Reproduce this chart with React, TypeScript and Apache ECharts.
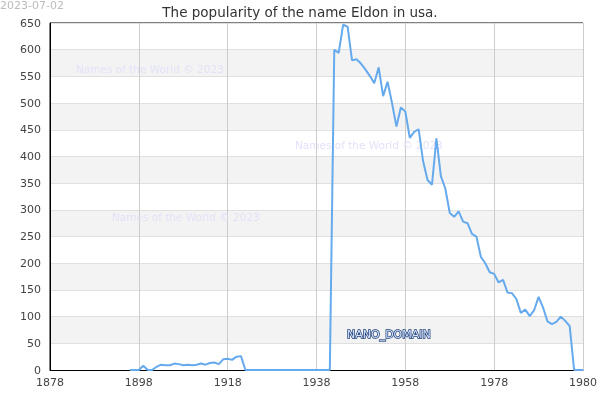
import React, { useEffect, useRef } from "react";
import * as echarts from "echarts";

const titleText = "The popularity of the name Eldon in usa.";
const dateText = "2023-07-02";
const watermarkText = "Names of the World © 2023";
const domainText = "NANO_DOMAIN";

const startYear = 1896;
// values per year, 1896 .. 1998
const popularity = [
  0, 0, 0, 8, 0, 0, 6, 10, 9, 9, // 1896-1905
  12, 11, 9, 10, 9, 10, 12, 10, 13, 14, // 1906-1915
  11, 20, 21, 19, 25, 26, 0, 0, 0, 0, // 1916-1925
  0, 0, 0, 0, 0, 0, 0, 0, 0, 0, // 1926-1935
  0, 0, 0, 0, 0, 0, 600, 594, 647, 643, // 1936-1945
  580, 582, 574, 563, 551, 537, 567, 513, 540, 500, // 1946-1955
  456, 492, 484, 435, 446, 451, 391, 356, 347, 434, // 1956-1965
  363, 340, 294, 287, 297, 278, 275, 255, 250, 212, // 1966-1975
  200, 183, 180, 164, 169, 145, 144, 133, 107, 113, // 1976-1985
  101, 112, 137, 117, 91, 86, 90, 100, 92, 82, // 1986-1995
  0, 0, 0, // 1996-1998
];

const xMin = 1878;
const xMax = 1998;
const xInterval = 20;
const xLastTickLabel = "1980";
const yMin = 0;
const yMax = 650;
const yInterval = 50;

export default function App() {
  const ref = useRef<HTMLDivElement>(null);
  useEffect(() => {
    if (!ref.current) return;
    const chart = echarts.init(ref.current, undefined, { renderer: "svg" });
    const data = popularity.map((v, i) => [startYear + i, v]);
    const font = "DejaVu Sans";
    const wmStyle = { text: watermarkText, fill: "#e2e2f8", fontSize: 10.5, fontFamily: font };
    chart.setOption({
      animation: false,
      textStyle: { fontFamily: font },
      title: {
        text: titleText,
        left: "center",
        top: 0,
        textStyle: { fontSize: 13.5, fontWeight: "normal", color: "#333", fontFamily: font },
      },
      grid: {
        left: 50,
        right: 15,
        top: 23,
        bottom: 30,
        show: true,
        borderColor: "#000",
        borderWidth: 1,
        backgroundColor: "transparent",
      },
      xAxis: {
        type: "value",
        min: xMin,
        max: xMax,
        interval: xInterval,
        axisLine: { show: true, lineStyle: { color: "#000", width: 1 } },
        axisTick: { show: false },
        axisLabel: {
          color: "#444",
          fontSize: 11,
          margin: 7,
          fontFamily: font,
          formatter: (v: number) => (v === xMax ? xLastTickLabel : String(v)),
        },
        splitLine: { show: true, lineStyle: { color: "#ccc", width: 1 } },
      },
      yAxis: {
        type: "value",
        min: yMin,
        max: yMax,
        interval: yInterval,
        axisLine: { show: true, lineStyle: { color: "#000", width: 1 } },
        axisTick: { show: false },
        axisLabel: { color: "#444", fontSize: 11, margin: 9, fontFamily: font },
        splitLine: { show: true, lineStyle: { color: "#e0e0e0", width: 1 } },
        splitArea: { show: true, areaStyle: { color: ["#ffffff", "#f3f3f3"] } },
      },
      graphic: [
        {
          type: "text",
          x: 0,
          y: 0,
          style: { text: dateText, fill: "#bbb", fontSize: 11, fontFamily: font, verticalAlign: "top" },
        },
        { type: "text", x: 76, y: 63, z: 1, style: wmStyle },
        { type: "text", x: 295, y: 139, z: 1, style: wmStyle },
        { type: "text", x: 112, y: 211, z: 1, style: wmStyle },
        {
          type: "text",
          x: 347,
          y: 329,
          z: 100,
          style: {
            text: domainText,
            fill: "#d6e4fb",
            stroke: "#22407c",
            lineWidth: 1.5,
            fontSize: 11,
            fontWeight: "normal",
            fontFamily: font,
          },
        },
      ],
      series: [
        {
          type: "line",
          z: 5,
          data,
          showSymbol: false,
          symbol: "none",
          lineStyle: { color: "#66aaee", width: 2 },
          itemStyle: { color: "#66aaee" },
        },
      ],
    });
    return () => chart.dispose();
  }, []);
  return (
    <div
      ref={ref}
      style={{ position: "fixed", left: 0, top: 0, width: 600, height: 400 }}
    />
  );
}
